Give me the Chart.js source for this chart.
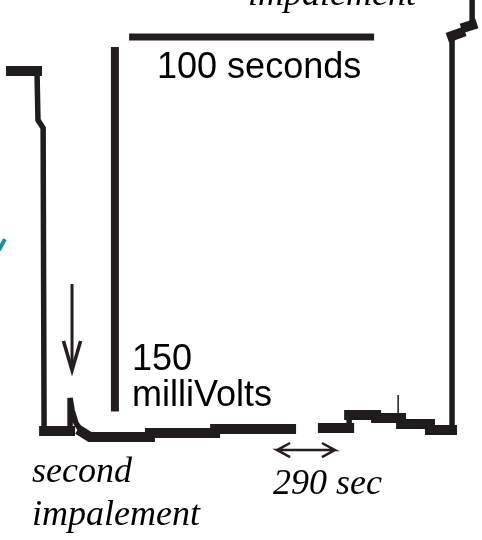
<!DOCTYPE html>
<html>
<head>
<meta charset="utf-8">
<script src="https://cdn.jsdelivr.net/npm/chart.js@4/dist/chart.umd.min.js"></script>
<style>
html,body{margin:0;padding:0;background:#fff;}
#wrap{width:482px;height:540px;position:relative;overflow:hidden;}
canvas{display:block;}
</style>
</head>
<body>
<div id="wrap"><canvas id="c" width="482" height="540"></canvas></div>
<script>
// x = time (seconds), y = membrane potential (mV)
// First impalement trace (left part)
const trace1Time = [4.5, 15.1, 15.5, 17.6, 18.0, 27.8, 28.6, 28.6, 29.4, 31.0, 33.5, 36.7, 61.2, 61.2, 87.8, 87.8, 118.8];
const trace1mV   = [-0.4, -0.4, -20.6, -23.9, -148.6, -148.6, -148.6, -135.0, -139.9, -145.3, -149.0, -151.0, -151.0, -149.4, -149.4, -147.7, -147.7];
// Trace after the 290 s gap (right part)
const trace2Time = [131.8, 142.5, 142.5, 153.5, 153.5, 163.7, 163.7, 175.5, 175.5, 184.5, 184.5, 187.8, 190.2, 192.7, 192.7];
const trace2mV   = [-147.3, -147.3, -142.0, -142.0, -143.2, -143.2, -145.7, -145.7, -148.2, -148.2, 14.0, 15.2, 17.7, 18.5, 30.9];
// Small spike on the right trace
const spikeTime = [162.5, 162.5];
const spikemV   = [-143.2, -133.7];
// Scale bars: 100 seconds, 150 milliVolts
const timeBarTime = [52.7, 152.7];
const timeBarmV   = [13.6, 13.6];
const voltBarTime = [46.9, 46.9];
const voltBarmV   = [9.5, -140.5];
// Arrow marking the second impalement
const arrowShaftTime = [29.4, 29.4];
const arrowShaftmV   = [-88.1, -121.0];
const arrowHeadTime  = [25.9, 29.4, 32.9];
const arrowHeadmV    = [-111.5, -123.6, -111.5];
// Double arrow for the 290 sec gap
const gapArrowTime = [118.4, 113.1, 118.4, 113.1, 136.7, 131.4, 136.7, 131.4];
const gapArrowmV   = [-153.5, -156.4, -159.3, -156.4, -156.4, -153.5, -156.4, -159.3];
// Teal mark at the left edge
const tealTime = [-0.4, 2.0];
const tealmV   = [-74.1, -69.6];
// Text labels and their anchors (time, mV)
const labelTexts = ["impalement", "100 seconds", "150", "milliVolts", "second", "impalement", "290 sec"];
const labelTime  = [101.2, 64.1, 53.9, 53.9, 13.1, 13.1, 111.4];
const labelmV    = [26.8, -3.3, -123.5, -138.3, -169.6, -187.2, -174.5];
const labelSerif = [true, false, false, false, true, true, true];

const pts = (xs, ys) => xs.map((x, i) => ({x: x, y: ys[i]}));
const INK = '#1f1c1d';

const textPlugin = {
  id: 'labels',
  afterDatasetsDraw(chart) {
    const ctx = chart.ctx, sx = chart.scales.x, sy = chart.scales.y;
    ctx.save();
    ctx.fillStyle = '#000';
    ctx.textBaseline = 'alphabetic';
    ctx.textAlign = 'left';
    labelTexts.forEach((t, i) => {
      ctx.font = labelSerif[i] ? 'italic 36px "Liberation Serif", "DejaVu Serif", serif'
                               : '36px "Liberation Sans", Arial, sans-serif';
      ctx.fillText(t, sx.getPixelForValue(labelTime[i]), sy.getPixelForValue(labelmV[i]));
    });
    ctx.restore();
  }
};

const traceSeg = {
  borderWidth: c => {
    const dx = Math.abs(c.p1.x - c.p0.x), dy = Math.abs(c.p1.y - c.p0.y);
    return dy > dx ? 5.5 : 10;
  }
};

new Chart(document.getElementById('c'), {
  type: 'line',
  data: {
    datasets: [
      {data: pts(trace1Time, trace1mV), borderColor: INK, borderWidth: 7, segment: traceSeg, borderCapStyle: 'square', borderJoinStyle: 'miter'},
      {data: pts(trace2Time, trace2mV), borderColor: INK, borderWidth: 7, segment: traceSeg, borderCapStyle: 'square', borderJoinStyle: 'miter'},
      {data: pts(spikeTime, spikemV), borderColor: INK, borderWidth: 1.5},
      {data: pts(timeBarTime, timeBarmV), borderColor: '#231f20', borderWidth: 7},
      {data: pts(voltBarTime, voltBarmV), borderColor: '#231f20', borderWidth: 8},
      {data: pts(arrowShaftTime, arrowShaftmV), borderColor: '#231f20', borderWidth: 3},
      {data: pts(arrowHeadTime, arrowHeadmV), borderColor: '#231f20', borderWidth: 3.5, borderJoinStyle: 'miter'},
      {data: pts(gapArrowTime, gapArrowmV), borderColor: '#231f20', borderWidth: 2.5, borderJoinStyle: 'miter'},
      {data: pts(tealTime, tealmV), borderColor: '#1b8ea6', borderWidth: 4}
    ]
  },
  options: {
    responsive: false,
    animation: false,
    layout: {padding: 0},
    elements: {point: {radius: 0, hoverRadius: 0}, line: {tension: 0}},
    scales: {
      x: {type: 'linear', min: 0, max: 196.73, display: false},
      y: {type: 'linear', min: -193.42, max: 28.81, display: false}
    },
    plugins: {legend: {display: false}, tooltip: {enabled: false}}
  },
  plugins: [textPlugin]
});
</script>
</body>
</html>
